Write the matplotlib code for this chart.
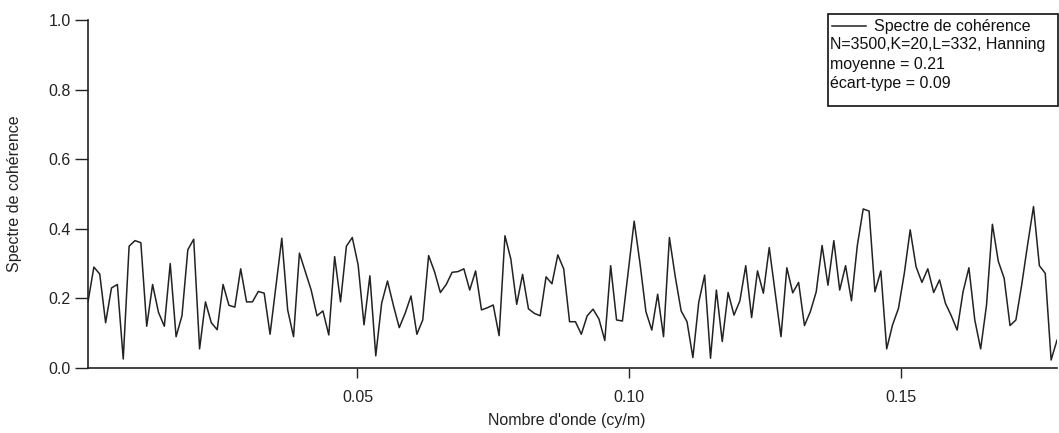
import numpy as np
import matplotlib
matplotlib.use("Agg")
import matplotlib.pyplot as plt
from matplotlib.patches import Rectangle
from matplotlib.lines import Line2D

plt.rcParams['font.family'] = ['Liberation Sans', 'DejaVu Sans']

# ---- data ----
x_start = 0.00042
x_step = 0.0010806
coherence = [
    0.19, 0.29, 0.27, 0.13, 0.23, 0.24, 0.026, 0.35, 0.366, 0.36,
    0.12, 0.24, 0.16, 0.12, 0.30, 0.09, 0.15, 0.34, 0.37, 0.055,
    0.19,
    0.13, 0.11, 0.24, 0.18, 0.175, 0.285, 0.19, 0.19, 0.22, 0.215,
    0.097, 0.235, 0.373, 0.167, 0.09, 0.33, 0.277, 0.224, 0.15, 0.164,
    0.095,
    0.32, 0.19, 0.35, 0.375, 0.296, 0.124, 0.265, 0.035, 0.186, 0.25,
    0.18, 0.116, 0.157, 0.207, 0.097, 0.138, 0.323, 0.277, 0.217, 0.24,
    0.275, 0.277, 0.285, 0.224, 0.279, 0.167, 0.173, 0.181, 0.093, 0.38,
    0.313, 0.183, 0.269, 0.17, 0.157, 0.15, 0.262, 0.242, 0.325, 0.285, 0.133,
    0.133, 0.097, 0.15, 0.169, 0.141, 0.079, 0.294, 0.138, 0.135, 0.279,
    0.422, 0.30, 0.162, 0.109, 0.212, 0.09, 0.375, 0.262, 0.164, 0.133,
    0.03, 0.189, 0.267, 0.028, 0.224, 0.076, 0.217, 0.152, 0.193, 0.294,
    0.145, 0.279, 0.215, 0.346, 0.219, 0.09, 0.288, 0.216, 0.246, 0.122,
    0.162, 0.219, 0.352, 0.238, 0.366, 0.224, 0.294, 0.193, 0.352, 0.457,
    0.451, 0.219, 0.279, 0.055, 0.124, 0.171, 0.272, 0.397, 0.291, 0.246, 0.285,
    0.217, 0.253, 0.186, 0.15, 0.109, 0.219, 0.288, 0.138, 0.055, 0.181,
    0.413, 0.307, 0.258, 0.122, 0.138, 0.24, 0.355, 0.464, 0.294, 0.272, 0.023, 0.08,
]
wavenumber = x_start + x_step * np.arange(len(coherence))

x_ticks = [0.05, 0.10, 0.15]
x_ticklabels = ["0.05", "0.10", "0.15"]
y_ticks = [0.0, 0.2, 0.4, 0.6, 0.8, 1.0]
y_ticklabels = ["0.0", "0.2", "0.4", "0.6", "0.8", "1.0"]

legend_lines = ["Spectre de cohérence", "N=3500,K=20,L=332, Hanning",
                "moyenne = 0.21", "écart-type = 0.09"]
xlabel = "Nombre d'onde (cy/m)"
ylabel = "Spectre de cohérence"

FS = 11.5

# ---- figure ----
W, H = 1059, 433
fig = plt.figure(figsize=(W / 100, H / 100), dpi=100)

def fx(px):
    return px / W

def fy(py):
    return 1 - py / H

L, R, T, B = 88, 1057, 20, 368
ax = fig.add_axes([fx(L), fy(B), fx(R) - fx(L), fy(T) - fy(B)])
ax.plot(wavenumber, coherence, color='#222222', lw=1.1)
ax.set_xlim(wavenumber[0], wavenumber[-1])
ax.set_ylim(0, 1)
ax.set_xticks(x_ticks)
ax.set_xticklabels(x_ticklabels)
ax.set_yticks(y_ticks)
ax.set_yticklabels(y_ticklabels)
for s in ['top', 'right']:
    ax.spines[s].set_visible(False)
for s in ['left', 'bottom']:
    ax.spines[s].set_linewidth(1.2)
    ax.spines[s].set_color('#222222')
ax.tick_params(axis='x', direction='out', length=7.5, width=1.0, pad=8.5,
               labelsize=FS, colors='#222222')
ax.tick_params(axis='y', direction='out', length=9.5, width=1.0, pad=3,
               labelsize=FS, colors='#222222')
ax.patch.set_alpha(0)

fig.text(fx(15), fy(194), ylabel, rotation=90, ha='center', va='center',
         fontsize=FS, color='#222222')
fig.text(fx(567), fy(424.5), xlabel, ha='center', va='baseline',
         fontsize=FS, color='#222222')

# legend box
bx0, by0, bx1, by1 = 828, 14, 1058, 106
fig.patches.append(Rectangle((fx(bx0), fy(by1)), fx(bx1) - fx(bx0), fy(by0) - fy(by1),
                             transform=fig.transFigure, fill=True, facecolor='white',
                             edgecolor='#111111', lw=1.2))
fig.lines.append(Line2D([fx(832), fx(866)], [fy(26), fy(26)], transform=fig.transFigure,
                        color='#222222', lw=1.1))
fig.text(fx(874), fy(30.5), legend_lines[0], ha='left', va='baseline', fontsize=FS, color='#111111')
fig.text(fx(830), fy(48.8), legend_lines[1], ha='left', va='baseline', fontsize=FS, color='#111111')
fig.text(fx(830), fy(69.5), legend_lines[2], ha='left', va='baseline', fontsize=FS, color='#111111')
fig.text(fx(830), fy(88), legend_lines[3], ha='left', va='baseline', fontsize=FS, color='#111111')

fig.savefig("out.png", dpi=100)
